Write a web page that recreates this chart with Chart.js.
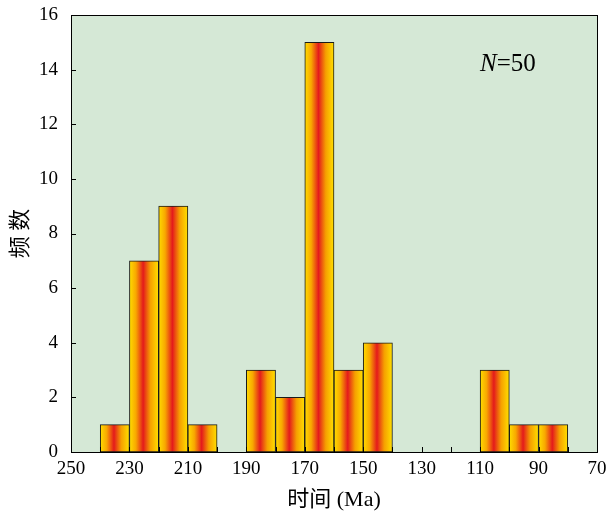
<!DOCTYPE html>
<html>
<head>
<meta charset="utf-8">
<script src="https://cdn.jsdelivr.net/npm/chart.js@4/dist/chart.umd.min.js"></script>
<style>
  html, body { margin: 0; padding: 0; background: #fff; }
  #wrap { width: 608px; height: 519px; }
</style>
</head>
<body>
<div id="wrap"><canvas id="grafico"></canvas></div>
<script>
// Centros de los intervalos (Ma) y frecuencias
const centros = [235, 225, 215, 205, 185, 175, 165, 155, 145, 105, 95, 85];
const frecuencias = [1, 7, 9, 1, 3, 2, 15, 3, 4, 3, 1, 1];
const anchoIntervalo = 10;
const etiquetasX = [250, 230, 210, 190, 170, 150, 130, 110, 90, 70];
const etiquetasY = [0, 2, 4, 6, 8, 10, 12, 14, 16];

const fuente = "'Liberation Serif', 'Noto Sans CJK SC', serif";

// Degradado horizontal de cada barra
function degradado(ctx) {
  const chart = ctx.chart;
  const x = chart.scales.x;
  if (!x || ctx.dataIndex === undefined) return "#f5a000";
  const c = centros[ctx.dataIndex];
  const x0 = x.getPixelForValue(c + anchoIntervalo / 2);
  const x1 = x.getPixelForValue(c - anchoIntervalo / 2);
  if (!isFinite(x0) || !isFinite(x1)) return "#f5a000";
  const g = chart.ctx.createLinearGradient(Math.min(x0, x1), 0, Math.max(x0, x1), 0);
  g.addColorStop(0, "#ffdc00");
  g.addColorStop(0.22, "#f8a800");
  g.addColorStop(0.47, "#e41a1c");
  g.addColorStop(0.72, "#f6a000");
  g.addColorStop(1, "#ffe000");
  return g;
}

const marcoPlugin = {
  id: "marco",
  beforeDraw(chart) {
    const { ctx, chartArea: a } = chart;
    ctx.save();
    ctx.fillStyle = "#d5e8d6";
    ctx.fillRect(a.left, a.top, a.right - a.left, a.bottom - a.top);
    ctx.restore();
  },
  afterDraw(chart) {
    const { ctx, chartArea: a, scales } = chart;
    ctx.save();
    ctx.strokeStyle = "#000";
    ctx.lineWidth = 1;
    // ticks hacia dentro
    ctx.beginPath();
    for (let v = 70; v <= 250; v += 10) {
      const px = Math.round(scales.x.getPixelForValue(v)) + 0.5;
      ctx.moveTo(px, a.bottom);
      ctx.lineTo(px, a.bottom - 5);
    }
    etiquetasY.forEach((v) => {
      const py = Math.round(scales.y.getPixelForValue(v)) + 0.5;
      ctx.moveTo(a.left, py);
      ctx.lineTo(a.left + 5, py);
    });
    ctx.stroke();
    ctx.strokeRect(Math.round(a.left) + 0.5, Math.round(a.top) + 0.5,
      Math.round(a.right - a.left), Math.round(a.bottom - a.top));
    // N=50
    ctx.fillStyle = "#000";
    ctx.textBaseline = "alphabetic";
    ctx.font = "italic 25px " + fuente;
    const xN = a.right - 117;
    const yN = a.top + 56;
    ctx.fillText("N", xN, yN);
    const w = ctx.measureText("N").width;
    ctx.font = "25px " + fuente;
    ctx.fillText("=50", xN + w, yN);
    ctx.restore();
  },
};

new Chart(document.getElementById("grafico"), {
  type: "bar",
  data: {
    datasets: [
      {
        data: centros.map((c, i) => ({ x: c, y: frecuencias[i] })),
        backgroundColor: degradado,
        borderColor: "#1a1a1a",
        borderWidth: 1,
        borderSkipped: false,
        barPercentage: 1,
        categoryPercentage: 1,
      },
    ],
  },
  options: {
    responsive: true,
    maintainAspectRatio: false,
    animation: false,
    layout: { padding: { top: 15, right: 11, left: 0, bottom: 0 } },
    plugins: { legend: { display: false }, tooltip: { enabled: false } },
    scales: {
      x: {
        type: "linear",
        reverse: true,
        offset: false,
        min: 70,
        max: 250,
        afterBuildTicks: (s) => { s.ticks = etiquetasX.map((v) => ({ value: v })); },
        afterFit: (s) => { s.height = 67; s.paddingLeft = 0; s.paddingRight = 0; },
        grid: { display: false, drawTicks: false, offset: false },
        border: { display: false },
        ticks: { color: "#000", padding: 6, maxRotation: 0, font: { family: fuente, size: 19 } },
        title: { display: true, text: "时间 (Ma)", color: "#000", padding: { top: 0, bottom: 6 }, font: { family: fuente, size: 22 } },
      },
      y: {
        min: 0,
        max: 16,
        afterBuildTicks: (s) => { s.ticks = etiquetasY.map((v) => ({ value: v })); },
        afterFit: (s) => { s.width = 71; s.paddingTop = 0; s.paddingBottom = 0; },
        grid: { display: false, drawTicks: false },
        border: { display: false },
        ticks: { color: "#000", padding: 13, font: { family: fuente, size: 19 } },
        title: { display: true, text: "频 数", color: "#000", padding: { top: 8, bottom: 0 }, font: { family: fuente, size: 22 } },
      },
    },
  },
  plugins: [marcoPlugin],
});
</script>
</body>
</html>
